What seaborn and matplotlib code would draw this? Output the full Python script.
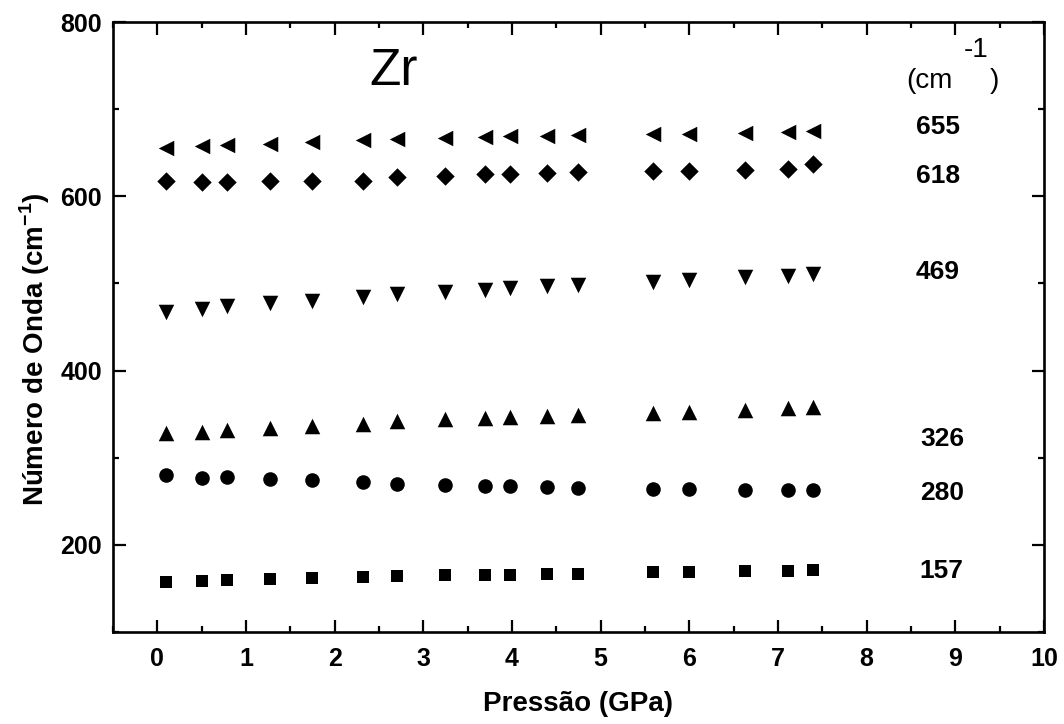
import matplotlib
matplotlib.use("Agg")
import matplotlib.pyplot as plt
from matplotlib.ticker import MultipleLocator
import pandas as pd
import seaborn as sns

# ---- data ----
pressure = [0.10, 0.50, 0.79, 1.27, 1.75, 2.32, 2.70, 3.25, 3.70, 3.98, 4.39, 4.74,
            5.59, 6.00, 6.63, 7.11, 7.40]
mode_157 = [157.6, 158.4, 159.2, 160.7, 162.2, 163.4, 164.1, 164.9, 165.6, 165.8, 166.2, 167.0,
            168.5, 169.0, 169.8, 170.3, 171.0]
mode_280 = [279.8, 276.7, 277.5, 275.6, 274.0, 272.1, 269.8, 268.3, 267.6, 267.2, 266.0, 265.6,
            264.5, 264.3, 263.5, 263.3, 262.8]
mode_326 = [328.0, 329.5, 331.5, 334.0, 336.0, 339.0, 342.0, 344.0, 345.5, 347.0, 348.0, 349.5,
            351.5, 352.5, 355.0, 356.5, 358.5]
mode_469 = [467.5, 471.0, 474.0, 477.0, 480.0, 484.0, 487.5, 490.5, 492.5, 494.5, 496.5, 498.5,
            501.5, 503.5, 507.0, 509.0, 511.0]
mode_618 = [618.0, 616.5, 616.5, 618.0, 618.0, 617.5, 622.0, 623.0, 625.5, 626.0, 627.0, 627.5,
            628.5, 629.0, 630.0, 631.0, 636.5]
mode_655 = [655.5, 657.5, 658.5, 660.0, 662.0, 664.5, 665.5, 667.0, 668.5, 669.0, 669.5, 670.0,
            671.0, 672.0, 673.0, 674.0, 675.0]
mode_labels = ["157", "280", "326", "469", "618", "655"]
x_ticks = [0, 1, 2, 3, 4, 5, 6, 7, 8, 9, 10]
y_ticks = [200, 400, 600, 800]

sns.set_theme(style="ticks")
fam = "Liberation Sans"
plt.rcParams['font.family'] = [fam, 'DejaVu Sans']
plt.rcParams['text.color'] = 'black'
plt.rcParams['axes.labelcolor'] = 'black'
plt.rcParams['xtick.color'] = 'black'
plt.rcParams['ytick.color'] = 'black'
plt.rcParams['mathtext.fontset'] = 'custom'
plt.rcParams['mathtext.rm'] = 'Liberation Sans'
plt.rcParams['mathtext.bf'] = 'Liberation Sans:bold'

fig = plt.figure(figsize=(10.64, 7.24), dpi=100)
ax = fig.add_axes([0.1062, 0.1271, 0.9812 - 0.1062, 0.9696 - 0.1271])

series = [(mode_157, "s", 85), (mode_280, "o", 110), (mode_326, "^", 125),
          (mode_469, "v", 125), (mode_618, "D", 88), (mode_655, "<", 125)]
for vals, mk, s in series:
    df = pd.DataFrame({"p": pressure, "w": vals})
    sns.scatterplot(data=df, x="p", y="w", marker=mk, s=s, color="black",
                    edgecolor="black", linewidth=0, ax=ax, legend=False)

ax.set_xlim(-0.5, 10)
ax.set_ylim(100, 800)
ax.set_xticks(x_ticks)
ax.set_yticks(y_ticks)
ax.xaxis.set_minor_locator(MultipleLocator(0.5))
ax.yaxis.set_minor_locator(MultipleLocator(100))
ax.tick_params(which="both", direction="in", top=True, right=True, width=1.6, color="black")
ax.tick_params(which="major", length=9)
ax.tick_params(which="minor", length=4.5)
ax.tick_params(axis="x", which="major", labelsize=18, pad=11)
ax.tick_params(axis="y", which="major", labelsize=18, pad=8)
for lab in ax.get_xticklabels() + ax.get_yticklabels():
    lab.set_fontweight("bold")
for sp in ax.spines.values():
    sp.set_linewidth(1.9)
    sp.set_color("black")

ax.set_xlabel("Pressão (GPa)", fontsize=20, fontweight="bold", labelpad=14)
ax.set_ylabel("Número de Onda (cm$^{\\mathbf{-1}}$)", fontsize=20, fontweight="bold")
ax.yaxis.set_label_coords(-0.066, 0.464)

ax.text(2.67, 743, "Zr", fontsize=37, ha="center", va="center")
ax.text(8.45, 732, "(cm", fontsize=20, ha="left", va="center")
ax.text(9.09, 768, "-1", fontsize=20, ha="left", va="center")
ax.text(9.39, 732, ")", fontsize=20, ha="left", va="center")

label_pos = {"655": (8.80, 680), "618": (8.80, 623), "469": (8.80, 513),
             "326": (8.85, 321), "280": (8.85, 259), "157": (8.84, 170)}
for lab in mode_labels:
    x, y = label_pos[lab]
    ax.text(x, y, lab, fontsize=19, fontweight="bold", ha="center", va="center")

fig.savefig("out.png", dpi=100)
